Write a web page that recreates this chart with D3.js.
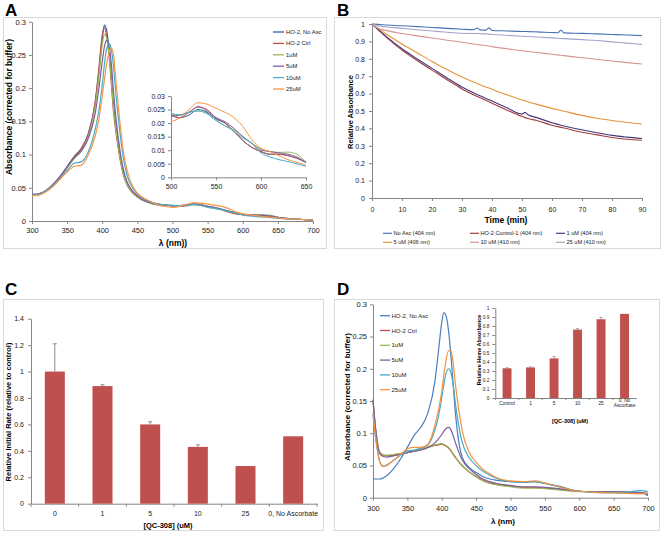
<!DOCTYPE html>
<html><head><meta charset="utf-8">
<script src="https://cdn.jsdelivr.net/npm/d3@7"></script>
<style>body{margin:0;background:#fff}svg{display:block}text{font-family:"Liberation Sans",Arial,sans-serif}</style>
</head><body><svg id="c" width="662" height="534"></svg>
<script>
// ---------- Panel A data ----------
const wlA = [300,310,320,330,340,350,360,370,380,390,395,400,403,406,410,413,416,420,425,430,435,440,450,460,470,480,490,500,510,520,530,540,550,560,570,580,590,600,610,620,630,640,650,660,670,680,690,700];
const namesA = ["HO-2, No Asc","HO-2 Ctrl","1uM","5uM","10uM","25uM"];
const colorsA = ["#2f5f9e","#c0504d","#9bbb59","#7d60a0","#4bacc6","#f79646"];
const a_noAsc = [.040,.041,.046,.055,.067,.082,.097,.109,.131,.178,.222,.274,.295,.288,.255,.215,.175,.138,.100,.073,.057,.048,.037,.031,.027,.025,.024,.023,.022,.023,.025,.024,.0215,.020,.017,.0135,.011,.0095,.0085,.0085,.008,.007,.0055,.004,.003,.0025,.002,.0015];
const a_ctrl  = [.039,.040,.045,.054,.066,.081,.096,.108,.130,.180,.228,.280,.291,.280,.245,.205,.165,.130,.095,.070,.055,.046,.036,.030,.027,.025,.024,.023,.022,.024,.026,.025,.022,.020,.017,.0135,.011,.0095,.0085,.0085,.008,.007,.0055,.004,.003,.0025,.002,.0015];
const a_1uM   = [.039,.040,.045,.054,.066,.080,.094,.105,.126,.172,.215,.265,.281,.276,.248,.210,.170,.133,.097,.071,.056,.047,.036,.030,.026,.024,.023,.0235,.023,.024,.0245,.0235,.021,.019,.0175,.015,.0125,.0105,.0095,.0092,.0093,.0085,.0055,.004,.003,.0025,.002,.0015];
const a_5uM   = [.040,.041,.046,.055,.067,.081,.095,.105,.124,.162,.198,.240,.262,.272,.262,.235,.195,.150,.108,.078,.060,.050,.038,.031,.027,.025,.024,.0225,.023,.024,.026,.0245,.022,.0205,.018,.015,.0125,.010,.0095,.009,.0085,.0075,.0055,.004,.003,.0025,.002,.0015];
const a_10uM  = [.039,.040,.045,.053,.064,.076,.087,.089,.104,.138,.165,.205,.235,.258,.267,.258,.232,.185,.135,.095,.070,.056,.041,.033,.028,.026,.024,.0235,.023,.024,.0245,.0235,.021,.019,.017,.0145,.0125,.009,.0075,.0065,.0058,.005,.004,.0035,.003,.0025,.002,.0015];
const a_25uM  = [.038,.039,.044,.052,.063,.074,.082,.084,.099,.128,.152,.188,.212,.235,.255,.260,.250,.205,.150,.105,.078,.060,.042,.034,.029,.024,.022,.0205,.022,.025,.0275,.027,.0255,.024,.022,.0187,.0138,.0107,.0095,.008,.0065,.0055,.0045,.0035,.003,.0025,.002,.0015];
const seriesA = [a_noAsc,a_ctrl,a_1uM,a_5uM,a_10uM,a_25uM];
const ticksAx = [300,350,400,450,500,550,600,650,700];
const ticksAy = [0,0.05,0.1,0.15,0.2,0.25,0.3];
const ticksAIx = [500,550,600,650];
const ticksAIy = [0,0.005,0.01,0.015,0.02,0.025,0.03];

// ---------- Panel B data ----------
const timeB = [0,2,5,10,15,20,25,30,34,35,36,38,39,40,45,50,51,52,55,60,62,63,64,70,75,80,85,90];
const namesB = ["No Asc (404 nm)","HO-2 Control-1 (404 nm)","1 uM (404 nm)","5 uM (406 nm)","10 uM (410 nm)","25 uM (410 nm)"];
const colorsB = ["#4a72b4","#a23e3c","#46397a","#e8913c","#d6938f","#a4a2cc"];
const b_noAsc = [1,.998,.994,.99,.985,.98,.975,.97,.967,.977,.966,.965,.978,.963,.96,.957,.957,.956,.955,.951,.95,.965,.949,.946,.943,.94,.937,.933];
const b_ctrl  = [1,.968,.92,.85,.79,.735,.68,.627,.592,.584,.576,.561,.553,.545,.505,.468,.462,.457,.445,.418,.41,.406,.402,.378,.363,.348,.338,.332];
const b_1uM   = [1,.97,.925,.858,.8,.745,.69,.638,.603,.595,.587,.572,.565,.557,.518,.482,.492,.478,.462,.432,.423,.418,.414,.392,.375,.36,.35,.342];
const b_5uM   = [1,.975,.94,.885,.835,.785,.738,.695,.665,.658,.651,.638,.632,.625,.593,.563,.558,.553,.538,.515,.507,.503,.499,.475,.458,.445,.434,.425];
const b_10uM  = [1,.975,.962,.945,.932,.92,.907,.895,.885,.882,.88,.876,.874,.87,.858,.846,.844,.842,.836,.826,.822,.82,.818,.806,.797,.787,.778,.77];
const b_25uM  = [1,.99,.983,.975,.967,.96,.953,.947,.945,.946,.944,.943,.942,.94,.935,.93,.929,.928,.925,.92,.918,.917,.916,.91,.905,.897,.89,.883];
const seriesB = [b_noAsc,b_ctrl,b_1uM,b_5uM,b_10uM,b_25uM];
const ticksBx = [0,10,20,30,40,50,60,70,80,90];
const ticksBy = [0,0.1,0.2,0.3,0.4,0.5,0.6,0.7,0.8,0.9,1];

// ---------- Panel C data ----------
const catsC = ["0","1","5","10","25","0, No Ascorbate"];
const rateC = [1.0,0.89,0.60,0.43,0.285,0.51];
const errC  = [0.21,0.01,0.02,0.015,0,0];
const ticksCy = [0,0.2,0.4,0.6,0.8,1,1.2,1.4];

// ---------- Panel D data ----------
const wlD = [300,303,306,310,315,320,330,340,350,360,370,380,390,395,400,403,406,410,413,416,420,425,430,440,450,460,470,480,500,520,535,550,570,600,630,660,690,700];
const namesD = ["HO-2, No Asc","HO-2 Ctrl","1uM","5uM","10uM","25uM"];
const colorsD = ["#4a7ebb","#be4b48","#98b954","#7d60a0","#46aac5","#f69240"];
const d_noAsc = [.030,.029,.029,.029,.031,.034,.045,.060,.078,.097,.110,.132,.180,.225,.272,.287,.283,.258,.225,.185,.130,.085,.062,.047,.039,.033,.029,.027,.025,.024,.025,.022,.018,.010,.009,.009,.008,.003];
const d_ctrl  = [.152,.115,.088,.070,.066,.065,.066,.068,.070,.072,.075,.078,.081,.082,.083,.082,.080,.077,.073,.068,.062,.055,.049,.040,.033,.027,.023,.021,.018,.016,.016,.015,.013,.010,.009,.008,.008,.006];
const d_1uM   = [.150,.113,.086,.069,.066,.066,.067,.069,.071,.073,.076,.079,.082,.083,.084,.083,.081,.078,.074,.069,.063,.056,.050,.040,.032,.026,.022,.020,.017,.015,.015,.014,.012,.0095,.009,.008,.007,.006];
const d_5uM   = [.152,.115,.088,.068,.064,.063,.065,.067,.070,.072,.074,.078,.085,.091,.098,.103,.107,.109,.106,.098,.085,.070,.058,.045,.036,.029,.025,.022,.019,.017,.017,.016,.014,.010,.009,.009,.008,.005];
const d_10uM  = [.130,.100,.077,.056,.049,.051,.058,.066,.073,.074,.077,.082,.105,.125,.155,.175,.192,.200,.195,.180,.145,.110,.085,.062,.050,.041,.035,.030,.025,.024,.025,.022,.017,.010,.008,.008,.011,.009];
const d_25uM  = [.130,.100,.076,.055,.048,.050,.058,.067,.076,.078,.078,.083,.112,.135,.165,.190,.212,.228,.228,.215,.175,.135,.103,.070,.055,.044,.037,.031,.026,.025,.026,.023,.017,.010,.008,.007,.006,.007];
const seriesD = [d_noAsc,d_ctrl,d_1uM,d_5uM,d_10uM,d_25uM];
const catsDI = ["Control","1","5","10","25","0, No Ascorbate"];
const hemeD = [0.33,0.34,0.44,0.76,0.875,0.935];
const errD  = [0.005,0.005,0.02,0.01,0.02,0];
const ticksDIy = [0,0.1,0.2,0.3,0.4,0.5,0.6,0.7,0.8,0.9,1];

// ---------- drawing ----------
const FONT = '"Liberation Sans",Arial,sans-serif';
const svg = d3.select('#c');
svg.append('rect').attr('width',662).attr('height',534).attr('fill','#fff');
const AX = '#868686', TX = '#1a1a1a';
const fmt = d => String(+d.toFixed(3));

function frame(x,y,w,h){svg.append('rect').attr('x',x+.5).attr('y',y+.5).attr('width',w).attr('height',h).attr('fill','none').attr('stroke','#d9d9d9');}
function letter(t,x,y){svg.append('text').attr('x',x).attr('y',y).attr('font-size',17).attr('font-weight','bold').attr('fill','#000').text(t);}
function styleAxis(g,fs){
  g.attr('font-family',FONT);
  g.selectAll('path,line').attr('stroke',AX);
  g.selectAll('text').attr('font-size',fs).attr('fill',TX);
}
function yAxis(x,scale,ticks,fs,pad){
  const g=svg.append('g').attr('transform',`translate(${x},0)`)
    .call(d3.axisLeft(scale).tickValues(ticks).tickFormat(fmt).tickSize(3).tickSizeOuter(0).tickPadding(pad));
  styleAxis(g,fs); return g;
}
function xAxis(y,scale,ticks,fs,pad){
  const g=svg.append('g').attr('transform',`translate(0,${y})`)
    .call(d3.axisBottom(scale).tickValues(ticks).tickFormat(fmt).tickSize(3).tickSizeOuter(0).tickPadding(pad));
  styleAxis(g,fs); return g;
}
function title(t,x,y,fs,rot){
  const el=svg.append('text').attr('font-size',fs).attr('font-weight','bold').attr('fill','#000').attr('text-anchor','middle').text(t);
  if(rot) el.attr('transform',`translate(${x},${y}) rotate(-90)`); else el.attr('x',x).attr('y',y);
}
function lines(xs,series,colors,xS,yS,w,filter){
  series.forEach((s,i)=>{
    let pts=xs.map((x,j)=>[x,s[j]]);
    if(filter) pts=pts.filter(filter);
    svg.append('path').datum(pts).attr('fill','none').attr('stroke',colors[i]).attr('stroke-width',w)
      .attr('stroke-linejoin','round')
      .attr('d',d3.line().x(d=>xS(d[0])).y(d=>yS(d[1])).curve(d3.curveMonotoneX));
  });
}

// ===== Panel A =====
frame(3,17,323,231);
letter('A',5,16);
const xA=d3.scaleLinear([300,700],[32,313]);
const yA=d3.scaleLinear([0,0.3],[221,21.7]);
yAxis(32,yA,ticksAy,7.5,3);
xAxis(221,xA,ticksAx,7.5,4);
lines(wlA,seriesA,colorsA,xA,yA,1.2);
title('Absorbance (corrected for buffer)',12,107,8.5,true);
title('λ (nm))',173,245.5,8.5,false);
namesA.forEach((n,i)=>{
  const y=32+11.4*i;
  svg.append('line').attr('x1',273).attr('x2',284).attr('y1',y).attr('y2',y).attr('stroke',colorsA[i]).attr('stroke-width',1.3);
  svg.append('text').attr('x',286).attr('y',y+2).attr('font-size',5.8).attr('fill',TX).text(n);
});
// inset
const xAI=d3.scaleLinear([500,650],[171,306]);
const yAI=d3.scaleLinear([0,0.03],[177.3,96]);
yAxis(171,yAI,ticksAIy,7,3);
xAxis(177.3,xAI,ticksAIx,7,4);
lines(wlA,seriesA,colorsA,xAI,yAI,1,d=>d[0]>=500&&d[0]<=650);

// ===== Panel B =====
frame(334,17,326,231);
letter('B',337,16);
const xB=d3.scaleLinear([0,90],[372,642]);
const yB=d3.scaleLinear([0,1],[198,24]);
yAxis(372,yB,ticksBy,7,4);
xAxis(198,xB,ticksBx,7,6);
lines(timeB,seriesB,colorsB,xB,yB,1.1);
title('Relative Absorbance',353,112,7.5,true);
title('Time (min)',506,223,8.5,false);
const legBx=[383,470,556], legBy=[233.3,242.3];
namesB.forEach((n,i)=>{
  const x=legBx[i%3], y=legBy[Math.floor(i/3)];
  svg.append('line').attr('x1',x).attr('x2',x+9).attr('y1',y).attr('y2',y).attr('stroke',colorsB[i]).attr('stroke-width',1.2);
  svg.append('text').attr('x',x+10.5).attr('y',y+2).attr('font-size',5.6).attr('fill',TX).text(n);
});

// ===== Panel C =====
frame(3,299,320,231);
letter('C',5,295);
const xC=d3.scaleBand(catsC,[31,317]).paddingInner(0.58).paddingOuter(0.29);
const yC=d3.scaleLinear([0,1.4],[503.7,318.7]);
yAxis(31,yC,ticksCy,7,4);
const gxC=svg.append('g').attr('transform','translate(0,503.7)').call(d3.axisBottom(xC).tickSize(0).tickPadding(7));
styleAxis(gxC,7);
catsC.forEach((c,i)=>{const x=xC(c)-xC.step()*xC.paddingInner()/2; svg.append('line').attr('x1',x).attr('x2',x).attr('y1',503.7).attr('y2',506.7).attr('stroke',AX);});
svg.append('line').attr('x1',317).attr('x2',317).attr('y1',503.7).attr('y2',506.7).attr('stroke',AX);
catsC.forEach((c,i)=>{
  svg.append('rect').attr('x',xC(c)).attr('y',yC(rateC[i])).attr('width',xC.bandwidth()).attr('height',yC(0)-yC(rateC[i])).attr('fill','#c0504d');
  if(errC[i]>0){
    const cx=xC(c)+xC.bandwidth()/2;
    svg.append('line').attr('x1',cx).attr('x2',cx).attr('y1',yC(rateC[i])).attr('y2',yC(rateC[i]+errC[i])).attr('stroke','#8c8c8c');
    svg.append('line').attr('x1',cx-2).attr('x2',cx+2).attr('y1',yC(rateC[i]+errC[i])).attr('y2',yC(rateC[i]+errC[i])).attr('stroke','#8c8c8c');
  }
});
title('Relative Initial Rate (relative to control)',10.5,412,7.5,true);
title('[QC-308] (uM)',168,528,7.5,false);

// ===== Panel D =====
frame(334,299,325,231);
letter('D',337,295);
const xD=d3.scaleLinear([300,700],[373,648]);
const yD=d3.scaleLinear([0,0.3],[497.7,304.3]);
yAxis(373,yD,ticksAy,7.5,3);
xAxis(497.7,xD,ticksAx,7.5,5);
lines(wlD,seriesD,colorsD,xD,yD,1.2);
title('Absorbance (corrected for buffer)',350,397,8,true);
title('λ (nm)',503,523.5,8,false);
namesD.forEach((n,i)=>{
  const y=315.7+14.8*i;
  svg.append('line').attr('x1',380).attr('x2',390).attr('y1',y).attr('y2',y).attr('stroke',colorsD[i]).attr('stroke-width',1.3);
  svg.append('text').attr('x',391.5).attr('y',y+2).attr('font-size',6).attr('fill',TX).text(n);
});
// inset bars
const xDI=d3.scaleBand(catsDI,[495.3,636.3]).paddingInner(0.62).paddingOuter(0.31);
const yDI=d3.scaleLinear([0,1],[398,308]);
yAxis(495.3,yDI,ticksDIy,4.8,3);
const gxDI=svg.append('g').attr('transform','translate(0,398)').call(d3.axisBottom(xDI).tickSize(0).tickPadding(4));
styleAxis(gxDI,4.8);
gxDI.selectAll('.tick text').each(function(d){
  if(d.indexOf('No ')>=0){
    const t=d3.select(this); t.text(null);
    t.append('tspan').attr('x',0).attr('dy',0).text('0, No');
    t.append('tspan').attr('x',0).attr('dy','1.1em').text('Ascorbate');
  }
});
catsDI.forEach((c,i)=>{const x=xDI(c)-xDI.step()*xDI.paddingInner()/2; svg.append('line').attr('x1',x).attr('x2',x).attr('y1',398).attr('y2',400).attr('stroke',AX);});
catsDI.forEach((c,i)=>{
  svg.append('rect').attr('x',xDI(c)).attr('y',yDI(hemeD[i])).attr('width',xDI.bandwidth()).attr('height',yDI(0)-yDI(hemeD[i])).attr('fill','#c0504d');
  if(errD[i]>0){
    const cx=xDI(c)+xDI.bandwidth()/2;
    svg.append('line').attr('x1',cx).attr('x2',cx).attr('y1',yDI(hemeD[i])).attr('y2',yDI(hemeD[i]+errD[i])).attr('stroke','#8c8c8c').attr('stroke-width',0.8);
    svg.append('line').attr('x1',cx-1.5).attr('x2',cx+1.5).attr('y1',yDI(hemeD[i]+errD[i])).attr('y2',yDI(hemeD[i]+errD[i])).attr('stroke','#8c8c8c').attr('stroke-width',0.8);
  }
});
title('Relative Heme Absorbance',481,350,5.5,true);
title('[QC-308] (uM)',570,422.5,5.5,false);
</script></body></html>
